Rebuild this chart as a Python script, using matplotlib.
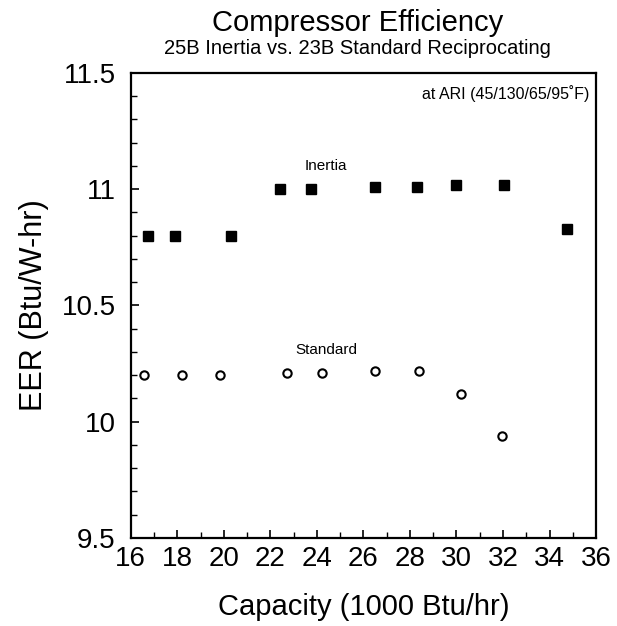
import matplotlib
matplotlib.use("Agg")
import matplotlib.pyplot as plt
from matplotlib.ticker import MultipleLocator

plt.rcParams['font.family'] = ['Liberation Sans', 'DejaVu Sans']

# Data (capacity in 1000 Btu/hr, EER in Btu/W-hr)
inertia_capacity = [16.75, 17.9, 20.3, 22.4, 23.75, 26.5, 28.3, 30.0, 32.05, 34.75]
inertia_eer = [10.80, 10.80, 10.80, 11.00, 11.00, 11.01, 11.01, 11.02, 11.02, 10.83]

standard_capacity = [16.55, 18.2, 19.85, 22.7, 24.2, 26.5, 28.4, 30.2, 31.95]
standard_eer = [10.20, 10.20, 10.20, 10.21, 10.21, 10.22, 10.22, 10.12, 9.94]

x_ticks = [16, 18, 20, 22, 24, 26, 28, 30, 32, 34, 36]
y_ticks = [9.5, 10, 10.5, 11, 11.5]
y_tick_labels = ['9.5', '10', '10.5', '11', '11.5']

fig = plt.figure(figsize=(6.17, 6.26), dpi=100)
ax = fig.add_axes([0.212, 0.1406, 0.754, 0.7428])

ax.plot(inertia_capacity, inertia_eer, linestyle='none', marker='s',
        markersize=6.5, color='black')
ax.plot(standard_capacity, standard_eer, linestyle='none', marker='o',
        markersize=6, markerfacecolor='white', markeredgecolor='black',
        markeredgewidth=1.5)

ax.set_xlim(16, 36)
ax.set_ylim(9.5, 11.5)
ax.set_xticks(x_ticks)
ax.set_xticklabels([str(t) for t in x_ticks])
ax.set_yticks(y_ticks)
ax.set_yticklabels(y_tick_labels)
ax.xaxis.set_minor_locator(MultipleLocator(1))
ax.yaxis.set_minor_locator(MultipleLocator(0.1))

ax.tick_params(axis='both', which='major', direction='in', length=6, width=1.2,
               labelsize=20, top=False, right=False)
ax.tick_params(axis='both', which='minor', direction='in', length=4, width=1.0,
               top=False, right=False)
ax.tick_params(axis='x', which='major', pad=6)
ax.tick_params(axis='y', which='major', pad=11)

for s in ax.spines.values():
    s.set_linewidth(1.6)
    s.set_color('black')

ax.set_xlabel('Capacity (1000 Btu/hr)', fontsize=21, labelpad=15)
ax.set_ylabel('EER (Btu/W-hr)', fontsize=22, labelpad=9)

ax.text(24.4, 11.10, 'Inertia', fontsize=11, ha='center', va='center')
ax.text(24.4, 10.31, 'Standard', fontsize=11, ha='center', va='center')
ax.text(0.985, 0.955, 'at ARI (45/130/65/95\u02daF)', transform=ax.transAxes,
        fontsize=11.5, ha='right', va='center')

fig.text(0.579, 0.963, 'Compressor Efficiency', fontsize=21,
         ha='center', va='center')
fig.text(0.579, 0.922, '25B Inertia vs. 23B Standard Reciprocating', fontsize=14.5,
         ha='center', va='center')

fig.savefig('out.png', dpi=100, facecolor='white')
